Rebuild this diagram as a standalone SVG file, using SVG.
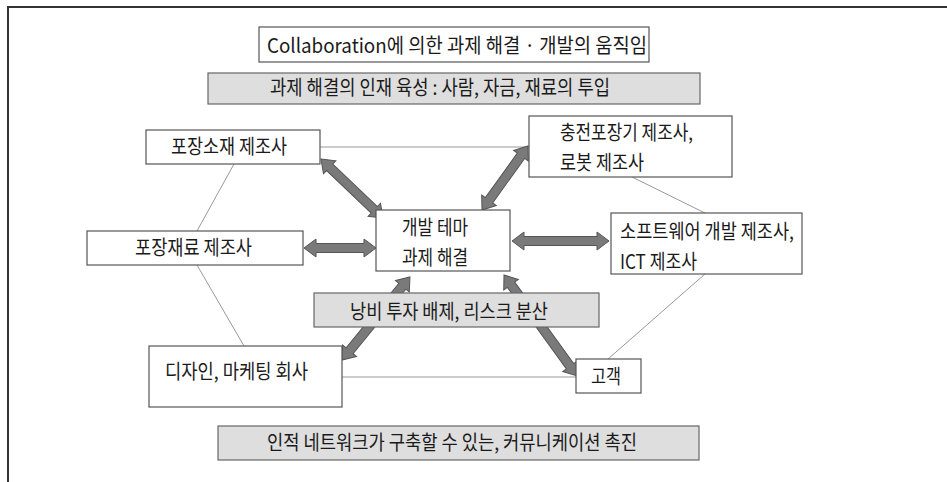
<svg xmlns="http://www.w3.org/2000/svg" width="947" height="482" viewBox="0 0 947 482">
<style>
.box{fill:#fff;stroke:#555;stroke-width:1.2}
.gbox{fill:#dedede;stroke:#666;stroke-width:1.2}
.t{font-family:"Noto Sans CJK KR","Liberation Sans",sans-serif;fill:#1a1a1a;font-size:20px}
.thin{stroke:#999;stroke-width:1;fill:none}
.arr{fill:#7a7a7a;stroke:#555;stroke-width:1}
</style>
<rect width="947" height="482" fill="#fff"/>
<path d="M8,482 V7 H947" fill="none" stroke="#333" stroke-width="2"/>
<g id="connectors">
<line class="thin" x1="234" y1="164" x2="197" y2="231"/>
<line class="thin" x1="197" y1="265" x2="244" y2="346"/>
<line class="thin" x1="320" y1="147" x2="529" y2="147"/>
<line class="thin" x1="632" y1="177" x2="705" y2="213"/>
<line class="thin" x1="705" y1="274" x2="608" y2="359"/>
<line class="thin" x1="342" y1="377" x2="576" y2="377"/>
<path class="arr" transform="translate(321,159) rotate(43.6)" d="M0,0 L12,-9 L12,-4.5 L73.6,-4.5 L73.6,-9 L85.6,0 L73.6,9 L73.6,4.5 L12,4.5 L12,9 Z"/>
<path class="arr" transform="translate(528,146) rotate(125.7)" d="M0,0 L12,-9 L12,-4.5 L66.8,-4.5 L66.8,-9 L78.8,0 L66.8,9 L66.8,4.5 L12,4.5 L12,9 Z"/>
<path class="arr" transform="translate(304,248)" d="M0,0 L12,-9 L12,-4.5 L60,-4.5 L60,-9 L72,0 L60,9 L60,4.5 L12,4.5 L12,9 Z"/>
<path class="arr" transform="translate(512,241)" d="M0,0 L12,-9 L12,-4.5 L85,-4.5 L85,-9 L97,0 L85,9 L85,4.5 L12,4.5 L12,9 Z"/>
<path class="arr" transform="translate(342,360) rotate(-50.7)" d="M0,0 L12,-9 L12,-4.5 L95.3,-4.5 L95.3,-9 L107.3,0 L95.3,9 L95.3,4.5 L12,4.5 L12,9 Z"/>
<path class="arr" transform="translate(504,275) rotate(54.1)" d="M0,0 L12,-9 L12,-4.5 L112.6,-4.5 L112.6,-9 L124.6,0 L112.6,9 L112.6,4.5 L12,4.5 L12,9 Z"/>
</g>
<g id="title">
<rect class="box" x="259" y="27" width="390" height="35"/>
<text class="t" x="267" y="53" font-size="24" textLength="380" lengthAdjust="spacingAndGlyphs">Collaboration에 의한 과제 해결 · 개발의 움직임</text>
</g>
<g id="banner-top">
<rect class="gbox" x="208" y="73" width="492" height="31"/>
<text class="t" x="270" y="95" font-size="21" textLength="340" lengthAdjust="spacingAndGlyphs">과제 해결의 인재 육성 : 사람, 자금, 재료의 투입</text>
</g>
<g id="n-pojangsojae">
<rect class="box" x="146" y="130" width="174" height="34"/>
<text class="t" x="171" y="154" textLength="116" lengthAdjust="spacingAndGlyphs">포장소재 제조사</text>
</g>
<g id="n-pojangjaeryo">
<rect class="box" x="87" y="231" width="216" height="34"/>
<text class="t" x="135" y="255" textLength="117" lengthAdjust="spacingAndGlyphs">포장재료 제조사</text>
</g>
<g id="n-center">
<rect class="box" x="376" y="210" width="134" height="61"/>
<text class="t" x="402" y="235" textLength="66" lengthAdjust="spacingAndGlyphs">개발 테마</text>
<text class="t" x="402" y="265" textLength="66" lengthAdjust="spacingAndGlyphs">과제 해결</text>
</g>
<g id="n-machine">
<rect class="box" x="529" y="116" width="203" height="61"/>
<text class="t" x="560" y="140" textLength="133" lengthAdjust="spacingAndGlyphs">충전포장기 제조사,</text>
<text class="t" x="560" y="170" textLength="84" lengthAdjust="spacingAndGlyphs">로봇 제조사</text>
</g>
<g id="n-software">
<rect class="box" x="611" y="213" width="191" height="61"/>
<text class="t" x="620" y="239" textLength="174" lengthAdjust="spacingAndGlyphs">소프트웨어 개발 제조사,</text>
<text class="t" x="620" y="269" textLength="77" lengthAdjust="spacingAndGlyphs">ICT 제조사</text>
</g>
<g id="banner-mid">
<rect class="gbox" x="314" y="293" width="285" height="34"/>
<text class="t" x="350" y="319" textLength="198" lengthAdjust="spacingAndGlyphs">낭비 투자 배제, 리스크 분산</text>
</g>
<g id="n-design">
<rect class="box" x="149" y="346" width="193" height="61"/>
<text class="t" x="165" y="379" textLength="143" lengthAdjust="spacingAndGlyphs">디자인, 마케팅 회사</text>
</g>
<g id="n-customer">
<rect class="box" x="576" y="359" width="65" height="34"/>
<text class="t" x="591" y="384" textLength="30" lengthAdjust="spacingAndGlyphs">고객</text>
</g>
<g id="banner-bottom">
<rect class="gbox" x="218" y="426" width="481" height="34"/>
<text class="t" x="267" y="450" textLength="370" lengthAdjust="spacingAndGlyphs">인적 네트워크가 구축할 수 있는, 커뮤니케이션 촉진</text>
</g>
</svg>
